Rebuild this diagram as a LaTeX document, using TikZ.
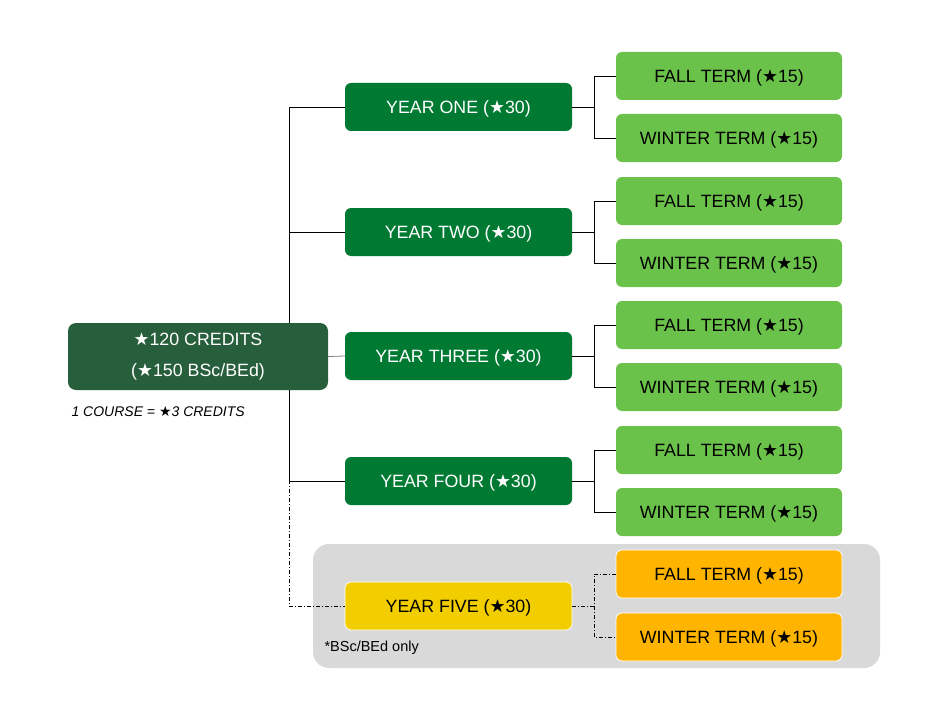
\documentclass[tikz,border=0pt]{standalone}
\usepackage{fontspec}
\setmainfont{Liberation Sans}
\newfontfamily\symfont{DejaVu Sans}
\newcommand{\cstar}{{\symfont\char"2605}}
\usetikzlibrary{calc}

\definecolor{maingreen}{HTML}{275E3B}
\definecolor{yeargreen}{HTML}{007A33}
\definecolor{termgreen}{HTML}{6AC24A}
\definecolor{fiveyellow}{HTML}{F2CE00}
\definecolor{fiveorange}{HTML}{FFB500}
\definecolor{optgray}{HTML}{D9D9D9}

\begin{document}
\begin{tikzpicture}[x=1pt, y=-1pt,
    box/.style={rounded corners=6pt, minimum height=48pt, inner sep=0pt,
      text height=13pt, text depth=0pt, font=\fontsize{17.8}{20}\selectfont},
    yearbox/.style={box, fill=yeargreen, text=white, minimum width=227pt},
    termbox/.style={box, fill=termgreen, text=black, minimum width=226pt},
    link/.style={line width=0.8pt, black},
    optlink/.style={link, dash pattern=on 4pt off 2pt on 1pt off 2pt}]
  \useasboundingbox (0,0) rectangle (942,706);

  % optional fifth year
  \node[fill=optgray, rounded corners=16pt, minimum width=567pt,
    minimum height=124pt, inner sep=0pt] (optional) at (596.5,606) {};
  \node[anchor=west, font=\fontsize{14.5}{16}\selectfont] (bsconly)
    at (321,648) {*BSc/BEd only};

  % program total
  \node[rounded corners=8pt, fill=maingreen, text=white, minimum width=260pt,
    minimum height=67pt, inner sep=0pt, align=center,
    font=\fontsize{17.8}{31}\selectfont] (total) at (198,356.5)
    {\cstar120 CREDITS\\(\cstar150 BSc/BEd)};
  \node[anchor=west, font=\itshape\fontsize{14}{16}\selectfont] (course)
    at (68,412) {1 COURSE = \cstar3 CREDITS};

  % years
  \node[yearbox] (y1) at (458.5,107) {YEAR ONE (\cstar30)};
  \node[yearbox] (y2) at (458.5,232) {YEAR TWO (\cstar30)};
  \node[yearbox] (y3) at (458.5,356) {YEAR THREE (\cstar30)};
  \node[yearbox] (y4) at (458.5,481) {YEAR FOUR (\cstar30)};
  \node[yearbox, fill=fiveyellow, text=black, draw=white, line width=0.8pt]
    (y5) at (458.5,606) {YEAR FIVE (\cstar30)};

  % terms
  \node[termbox] (f1) at (729,76) {FALL TERM (\cstar15)};
  \node[termbox] (w1) at (729,138) {WINTER TERM (\cstar15)};
  \node[termbox] (f2) at (729,201) {FALL TERM (\cstar15)};
  \node[termbox] (w2) at (729,263) {WINTER TERM (\cstar15)};
  \node[termbox] (f3) at (729,325) {FALL TERM (\cstar15)};
  \node[termbox] (w3) at (729,387) {WINTER TERM (\cstar15)};
  \node[termbox] (f4) at (729,450) {FALL TERM (\cstar15)};
  \node[termbox] (w4) at (729,512) {WINTER TERM (\cstar15)};
  \node[termbox, fill=fiveorange, draw=white, line width=0.8pt]
    (f5) at (729,574) {FALL TERM (\cstar15)};
  \node[termbox, fill=fiveorange, draw=white, line width=0.8pt]
    (w5) at (729,637) {WINTER TERM (\cstar15)};

  % connectors
  \coordinate (trunk) at (289,0);
  \draw[link] (y1.west) -| (total.north -| trunk);
  \draw[link] (y2.west) -- (y2.west -| trunk);
  \draw[link] (total.south -| trunk) |- (y4.west);
  \draw[link, gray] (total.east) -- (y3.west);
  \draw[optlink] (total.south -| trunk) |- (y5.west);
  \foreach \n in {1,2,3,4} {
    \draw[link] (y\n.east) -- ++(22,0) |- (f\n.west);
    \draw[link] (y\n.east) ++(22,0) |- (w\n.west);
  }
  \draw[optlink] (y5.east) -- ++(22,0) |- (f5.west);
  \draw[optlink] (y5.east) ++(22,0) |- (w5.west);
\end{tikzpicture}
\end{document}
